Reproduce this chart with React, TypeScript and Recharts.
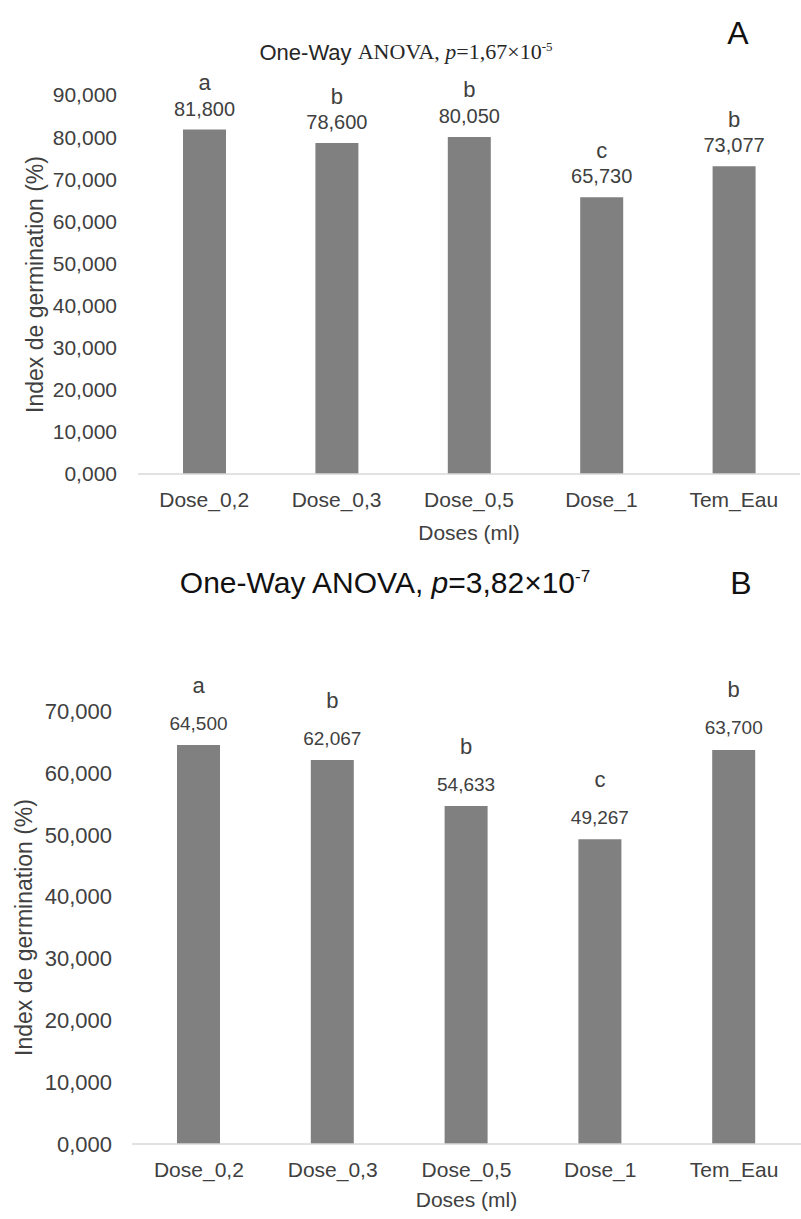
import React from 'react';
import { BarChart, Bar, XAxis, YAxis, LabelList, Label } from 'recharts';

const categories = ['Dose_0,2', 'Dose_0,3', 'Dose_0,5', 'Dose_1', 'Tem_Eau'];
const valuesA = [81.8, 78.6, 80.05, 65.73, 73.077];
const lettersA = ['a', 'b', 'b', 'c', 'b'];
const valuesB = [64.5, 62.067, 54.633, 49.267, 63.7];
const lettersB = ['a', 'b', 'b', 'c', 'b'];
const ticksA = [0, 10, 20, 30, 40, 50, 60, 70, 80, 90];
const ticksB = [0, 10, 20, 30, 40, 50, 60, 70];

const dataA = categories.map((name, i) => ({ name, value: valuesA[i], letter: lettersA[i] }));
const dataB = categories.map((name, i) => ({ name, value: valuesB[i], letter: lettersB[i] }));

const fmt = (v: number) => v.toFixed(3).replace('.', ',');
const SANS = 'Arial, "Liberation Sans", Helvetica, sans-serif';
const SERIF = '"Times New Roman", "Liberation Serif", serif';
const BAR = '#808080';
const TXT = '#404040';

const makeLabel = (offset: number, fontSize: number, isLetter: boolean) => (props: any) => {
  const { x, y, width, value } = props;
  return (
    <text
      x={Number(x) + Number(width) / 2}
      y={Number(y) - offset}
      textAnchor="middle"
      dominantBaseline="central"
      fontFamily={SANS}
      fontSize={fontSize}
      fill={TXT}
    >
      {isLetter ? value : fmt(Number(value))}
    </text>
  );
};

const yLabel = (cx: number, fontSize: number) => (props: any) => {
  const vb = props.viewBox;
  const cy = vb.y + vb.height / 2;
  return (
    <text
      x={cx}
      y={cy}
      transform={`rotate(-90, ${cx}, ${cy})`}
      textAnchor="middle"
      dominantBaseline="central"
      fontFamily={SANS}
      fontSize={fontSize}
      fill={TXT}
    >
      Index de germination (%)
    </text>
  );
};

export default function App() {
  return (
    <div style={{ position: 'absolute', left: 0, top: 0, width: 801, height: 1219, background: '#fff', overflow: 'hidden' }}>
      {/* Panel A */}
      <div style={{ position: 'absolute', left: 0, top: 0 }}>
        <BarChart width={801} height={560} data={dataA} margin={{ top: 95, right: 1, bottom: 0, left: 0 }}>
          <XAxis
            dataKey="name"
            height={86}
            axisLine={{ stroke: '#d9d9d9', strokeWidth: 1.5 }}
            tickLine={false}
            tickSize={0}
            tickMargin={18}
            tick={{ fontFamily: SANS, fontSize: 21, fill: TXT }}
          >
            <Label value="Doses (ml)" position="insideBottom" offset={20} style={{ fontFamily: SANS, fontSize: 21, fill: TXT }} />
          </XAxis>
          <YAxis
            width={138}
            domain={[0, 90]}
            ticks={ticksA}
            interval={0}
            axisLine={false}
            tickLine={false}
            tickSize={0}
            tickMargin={21}
            tickFormatter={fmt}
            tick={{ fontFamily: SANS, fontSize: 21, fill: TXT }}
          >
            <Label content={yLabel(35, 23)} />
          </YAxis>
          <Bar dataKey="value" fill={BAR} barSize={43} isAnimationActive={false}>
            <LabelList dataKey="value" content={makeLabel(21, 20, false)} />
            <LabelList dataKey="letter" content={makeLabel(47, 22, true)} />
          </Bar>
        </BarChart>
      </div>
      <div style={{ position: 'absolute', left: 406, top: 52, transform: 'translate(-50%, -50%)', whiteSpace: 'nowrap', fontSize: 22, color: '#262626', lineHeight: 1 }}>
        <span style={{ fontFamily: SANS }}>One-Way </span>
        <span style={{ fontFamily: SERIF }}>ANOVA, <i>p</i>=1,67×10<sup style={{ fontSize: 13 }}>-5</sup></span>
      </div>
      <div style={{ position: 'absolute', left: 738, top: 33, transform: 'translate(-50%, -50%)', fontFamily: SANS, fontSize: 32, color: '#111', lineHeight: 1 }}>A</div>

      {/* Panel B */}
      <div style={{ position: 'absolute', left: 0, top: 560 }}>
        <BarChart width={801} height={659} data={dataB} margin={{ top: 151, right: 0, bottom: 0, left: 0 }}>
          <XAxis
            dataKey="name"
            height={75}
            axisLine={{ stroke: '#d9d9d9', strokeWidth: 1.5 }}
            tickLine={false}
            tickSize={0}
            tickMargin={18}
            tick={{ fontFamily: SANS, fontSize: 21, fill: TXT }}
          >
            <Label value="Doses (ml)" position="insideBottom" offset={12} style={{ fontFamily: SANS, fontSize: 21, fill: TXT }} />
          </XAxis>
          <YAxis
            width={132}
            domain={[0, 70]}
            ticks={ticksB}
            interval={0}
            axisLine={false}
            tickLine={false}
            tickSize={0}
            tickMargin={20}
            tickFormatter={fmt}
            tick={{ fontFamily: SANS, fontSize: 22, fill: TXT }}
          >
            <Label content={yLabel(24, 23)} />
          </YAxis>
          <Bar dataKey="value" fill={BAR} barSize={43} isAnimationActive={false}>
            <LabelList dataKey="value" content={makeLabel(22, 19, false)} />
            <LabelList dataKey="letter" content={makeLabel(60, 22, true)} />
          </Bar>
        </BarChart>
      </div>
      <div style={{ position: 'absolute', left: 385, top: 583, transform: 'translate(-50%, -50%)', whiteSpace: 'nowrap', fontFamily: SANS, fontSize: 30, color: '#111', lineHeight: 1 }}>
        One-Way ANOVA, <i>p</i>=3,82×10<sup style={{ fontSize: 17 }}>-7</sup>
      </div>
      <div style={{ position: 'absolute', left: 741, top: 583, transform: 'translate(-50%, -50%)', fontFamily: SANS, fontSize: 32, color: '#111', lineHeight: 1 }}>B</div>
    </div>
  );
}
